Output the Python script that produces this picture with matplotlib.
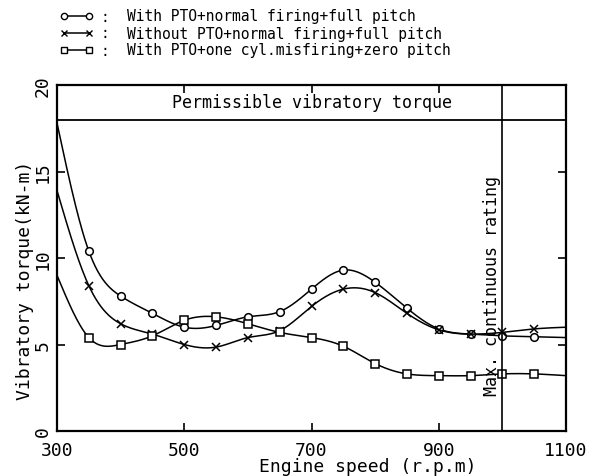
import numpy as np
import matplotlib
matplotlib.use("Agg")
import matplotlib.pyplot as plt
from matplotlib.lines import Line2D

# engine speed (rpm) and vibratory torque (kN-m)
rpm = [300, 350, 400, 450, 500, 550, 600, 650, 700, 750, 800, 850, 900, 950, 1000, 1050, 1100]
with_pto = [17.8, 10.4, 7.8, 6.8, 6.0, 6.1, 6.6, 6.9, 8.2, 9.3, 8.6, 7.1, 5.9, 5.6, 5.5, 5.45, 5.4]
without_pto = [13.9, 8.4, 6.2, 5.6, 5.0, 4.85, 5.4, 5.8, 7.2, 8.2, 8.0, 6.8, 5.85, 5.6, 5.7, 5.9, 6.0]
misfire = [9.0, 5.4, 5.0, 5.5, 6.4, 6.6, 6.2, 5.7, 5.4, 4.9, 3.9, 3.3, 3.2, 3.2, 3.3, 3.3, 3.2]

labels = ["With PTO+normal firing+full pitch",
          "Without PTO+normal firing+full pitch",
          "With PTO+one cyl.misfiring+zero pitch"]
markers = ["o", "x", "s"]

x_ticks = [300, 500, 700, 900, 1100]
y_ticks = [0, 5, 10, 15, 20]
permissible = 18
mcr_speed = 1000

FONT = "DejaVu Sans Mono"


def spline(x, y, num=600):
    # natural cubic spline, just for drawing the smooth curve
    x = np.asarray(x, float)
    y = np.asarray(y, float)
    n = len(x)
    h = np.diff(x)
    A = np.zeros((n, n))
    b = np.zeros(n)
    A[0, 0] = A[-1, -1] = 1
    for i in range(1, n - 1):
        A[i, i - 1] = h[i - 1]
        A[i, i] = 2 * (h[i - 1] + h[i])
        A[i, i + 1] = h[i]
        b[i] = 6 * ((y[i + 1] - y[i]) / h[i] - (y[i] - y[i - 1]) / h[i - 1])
    M = np.linalg.solve(A, b)
    xs = np.linspace(x[0], x[-1], num)
    k = np.clip(np.searchsorted(x, xs) - 1, 0, n - 2)
    t0 = x[k + 1] - xs
    t1 = xs - x[k]
    hk = h[k]
    ys = (M[k] * t0 ** 3 / (6 * hk) + M[k + 1] * t1 ** 3 / (6 * hk)
          + (y[k] / hk - M[k] * hk / 6) * t0 + (y[k + 1] / hk - M[k + 1] * hk / 6) * t1)
    return xs, ys


W, H = 605, 477
fig = plt.figure(figsize=(W / 100, H / 100), dpi=100)
ax = fig.add_axes([57 / W, 1 - 432 / H, (566 - 57) / W, (432 - 86) / H])

for vals, m in zip([with_pto, without_pto, misfire], markers):
    xs, ys = spline(rpm, vals)
    ax.plot(xs, ys, color="black", lw=1.1)
    ax.plot(rpm[1:16], vals[1:16], ls="none", marker=m, ms=5.5 if m != "x" else 6,
            mfc="white", mec="black", mew=1.1)

ax.axhline(permissible, color="black", lw=1.3)
ax.axvline(mcr_speed, color="black", lw=1.2)

ax.text(700, 19, "Permissible vibratory torque", ha="center", va="center",
        fontsize=12, family=FONT)
ax.text(998, 2.1, "Max. continuous rating", rotation=90, ha="right", va="bottom",
        fontsize=12, family=FONT)

ax.set_xlim(300, 1100)
ax.set_ylim(0, 20)
ax.set_xticks(x_ticks)
ax.set_yticks(y_ticks)
ax.tick_params(direction="in", length=6, width=1.2, top=True, right=True,
               labelsize=13)
ax.tick_params(axis="x", pad=7)
ax.tick_params(axis="y", pad=4)
for t in ax.get_yticklabels():
    t.set_rotation(90)
    t.set_va("center")
for t in ax.get_xticklabels() + ax.get_yticklabels():
    t.set_family(FONT)
for s in ax.spines.values():
    s.set_linewidth(1.6)

fig.text(368 / W, 1 - 467 / H, "Engine speed (r.p.m)", ha="center", va="center",
         fontsize=13, family=FONT)
fig.text(25 / W, 1 - 280 / H, "Vibratory torque(kN-m)", ha="center", va="center",
         rotation=90, fontsize=13, family=FONT)

# legend drawn by hand at the top
for i, (lab, m) in enumerate(zip(labels, markers)):
    yy = 1 - (17 + 17 * i) / H
    fig.add_artist(Line2D([64 / W, 89 / W], [yy, yy], color="black", lw=1.1,
                          marker=m, ms=4.5, mfc="white", mec="black", mew=1.0))
    fig.text(105 / W, yy, ":", ha="center", va="center", fontsize=10.5, family=FONT)
    fig.text(127 / W, yy, lab, ha="left", va="center", fontsize=10.5, family=FONT)

fig.savefig("out.png", dpi=100)
